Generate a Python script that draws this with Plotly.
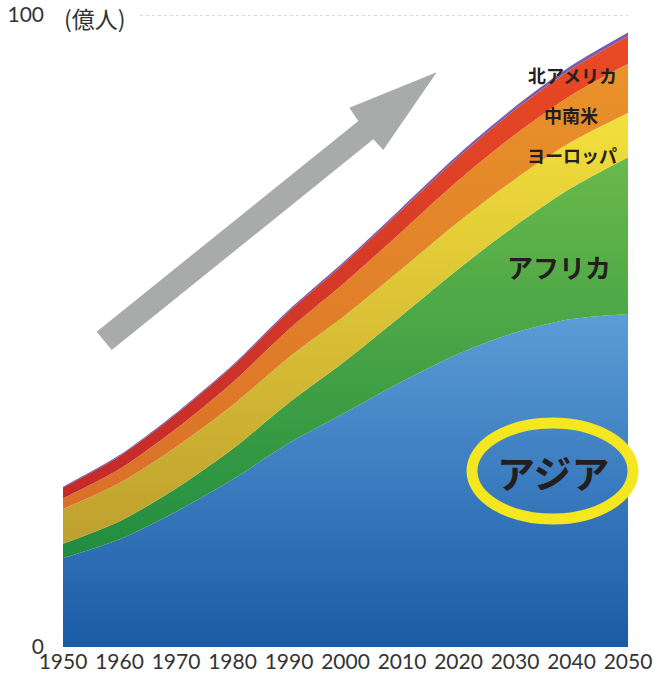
import plotly.graph_objects as go

years = [1950, 1960, 1970, 1980, 1990, 2000, 2010, 2020, 2030, 2040, 2050]
asia = [14.05, 17.05, 21.42, 26.50, 32.26, 37.10, 42.00, 46.41, 49.74, 51.89, 52.70]
africa = [2.28, 2.84, 3.66, 4.82, 6.38, 8.18, 10.49, 13.41, 16.88, 20.77, 24.80]
europe = [5.49, 6.06, 6.57, 6.94, 7.21, 7.26, 7.36, 7.48, 7.41, 7.28, 7.00]
latam = [1.69, 2.20, 2.87, 3.61, 4.43, 5.22, 5.91, 6.54, 7.06, 7.42, 7.80]
namerica = [1.73, 2.05, 2.31, 2.54, 2.80, 3.12, 3.43, 3.69, 3.91, 4.10, 4.35]
oceania = [0.13, 0.16, 0.20, 0.23, 0.27, 0.31, 0.37, 0.43, 0.48, 0.53, 0.57]

series = [
    ("アジア", asia, 0, 55, "#1a5ba7", "#5f9fd9"),
    ("アフリカ", africa, 12, 80, "#1e8b40", "#6dbb4b"),
    ("ヨーロッパ", europe, 18, 86, "#bfa12f", "#f4e13b"),
    ("中南米", latam, 22, 92, "#da7028", "#e9922a"),
    ("北アメリカ", namerica, 24, 97, "#c32a2a", "#ea4b24"),
    ("オセアニア", oceania, 25, 98, "#6f56a8", "#7d5cb0"),
]

fig = go.Figure()
for name, vals, s0, s1, c0, c1 in series:
    fig.add_trace(go.Scatter(
        x=years, y=vals, name=name, stackgroup="one", mode="lines",
        line=dict(width=0, shape="spline", smoothing=0.8),
        fillgradient=dict(type="vertical", start=s0, stop=s1,
                          colorscale=[[0, c0], [1, c1]]),
        hoverinfo="skip",
    ))

# plot area in pixels
L, R, T, B = 63, 628, 15, 647
W, H = 654, 677

def px(x, y):
    return ((x - L) / (R - L), (B - y) / (B - T))

# arrow polygon (decoration)
arrow_px = [(96.7, 331.7), (358.3, 121), (349.3, 107.7), (436.7, 72.3),
            (383.3, 150), (373.3, 139.3), (111.7, 350)]
pts = [px(a, b) for a, b in arrow_px]
path = "M " + " L ".join(f"{a:.4f},{b:.4f}" for a, b in pts) + " Z"
fig.add_shape(type="path", xref="paper", yref="paper", path=path,
              fillcolor="#a8abaa", line=dict(width=0), layer="above")

# ellipse around Asia label
ex0, ey0 = px(472, 519)
ex1, ey1 = px(633, 423)
fig.add_shape(type="circle", xref="paper", yref="paper", x0=ex0, y0=ey0, x1=ex1, y1=ey1,
              line=dict(color="#f4e61f", width=11), layer="above")

# dotted line at 100
fig.add_shape(type="line", xref="paper", yref="y", x0=px(140, 0)[0], x1=1, y0=100, y1=100,
              line=dict(color="#b5b5b5", width=1, dash="dot"), layer="below")

labels = [
    ("アジア", 553, 471, 38),
    ("アフリカ", 559, 266, 26),
    ("北アメリカ", 572, 75, 18),
    ("中南米", 571, 115, 18),
    ("ヨーロッパ", 572, 155, 18),
]
for t, x, y, s in labels:
    ax, ay = px(x, y)
    fig.add_annotation(x=ax, y=ay, xref="paper", yref="paper", text=f"<b>{t}</b>",
                       showarrow=False, xanchor="center", yanchor="middle",
                       font=dict(family="Noto Sans CJK JP", size=s, color="#231f20"))

ux, uy = px(62, 18)
fig.add_annotation(x=ux, y=uy, xref="paper", yref="paper", text="(億人)", showarrow=False,
                   xanchor="left", yanchor="middle",
                   font=dict(family="Noto Sans CJK JP", size=23, color="#333333"))

fig.update_layout(
    width=W, height=H,
    margin=dict(l=L, r=W - R, t=T, b=H - B, autoexpand=False),
    paper_bgcolor="white", plot_bgcolor="white",
    showlegend=False,
    xaxis=dict(range=[1950, 2050], tickvals=years, ticktext=[str(y) for y in years],
               showgrid=False, zeroline=False, showline=False, ticks="", automargin=False,
               tickfont=dict(family="Lato", size=21, color="#333333"), ticklabelstandoff=0),
    yaxis=dict(range=[0, 100], tickvals=[0, 100], ticktext=["0", "100"],
               showgrid=False, zeroline=False, showline=False, ticks="", automargin=False,
               tickfont=dict(family="Lato", size=21, color="#333333"), ticklabelstandoff=18),
)

fig.write_html("out.html")
